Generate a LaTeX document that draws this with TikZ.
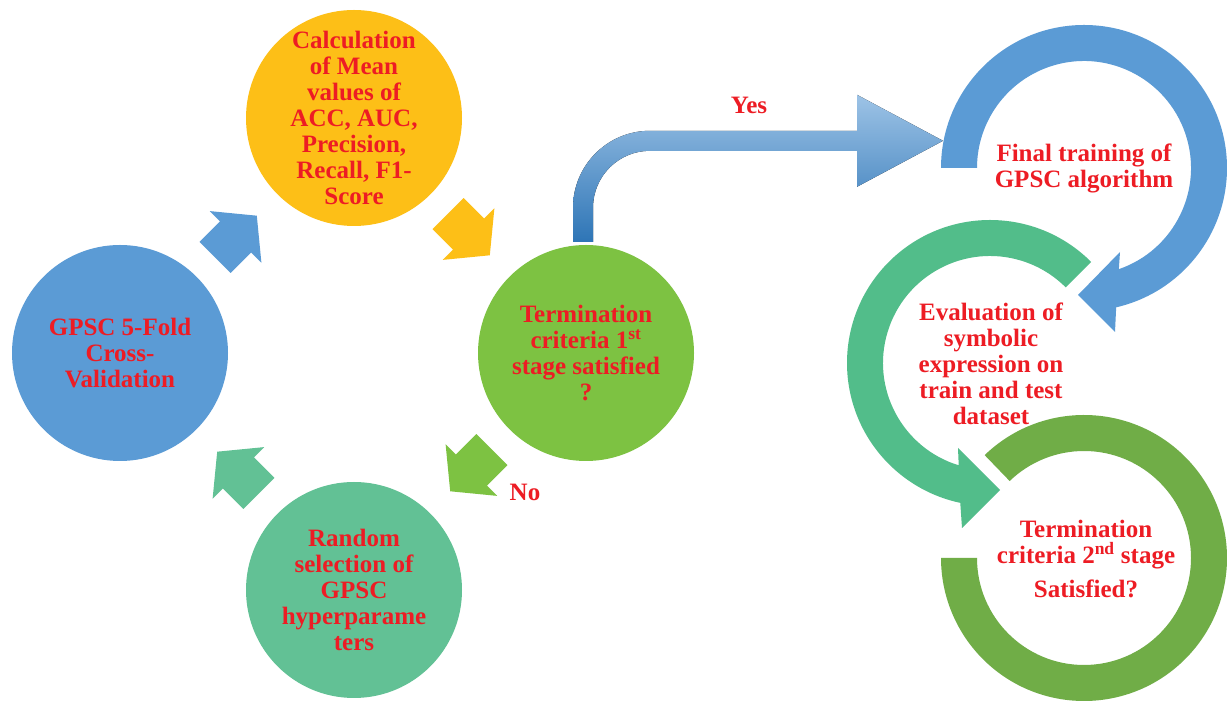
\documentclass[tikz,border=0pt]{standalone}
\usepackage{fontspec}
\setmainfont{Liberation Serif}
\usetikzlibrary{calc}
\definecolor{cvblue}{HTML}{5B9BD5}
\definecolor{calcgold}{HTML}{FDBF17}
\definecolor{termgreen}{HTML}{7DC242}
\definecolor{randteal}{HTML}{62C195}
\definecolor{evalgreen}{HTML}{52BD8A}
\definecolor{olivegreen}{HTML}{70AD47}
\definecolor{yeslight}{HTML}{9DC3E6}
\definecolor{yesdark}{HTML}{2E75B6}
\definecolor{labelred}{HTML}{ED1C24}

\tikzset{
  redtext/.style={text=labelred, align=center, inner sep=0pt,
                  font=\fontsize{25}{26}\selectfont\bfseries},
  stage/.style={redtext, circle, fill=#1, minimum size=216pt},
  cyclearrow/.pic={
    \fill[#1] (-31,-22) -- (-2,-22) -- (-2,-36.5) -- (28,0)
              -- (-2,36.5) -- (-2,22) -- (-31,22) -- cycle;}
}

\begin{document}
\begin{tikzpicture}[x=1pt, y=1pt]
  \useasboundingbox (0,0) rectangle (1227,701);
  \fill[white] (0,0) rectangle (1227,701);

  % left cycle
  \node[stage=cvblue] (cv) at (120,348) {GPSC 5-Fold\\Cross-\\Validation};
  \node[stage=calcgold] (calc) at (354,583)
    {Calculation\\of Mean\\values of\\ACC, AUC,\\Precision,\\Recall, F1-\\Score};
  \node[stage=termgreen] (term1) at (586,348)
    {Termination\\criteria 1\textsuperscript{st}\\stage satisfied\\?};
  \node[stage=randteal] (rand) at (354,111)
    {Random\\selection of\\GPSC\\hyperparame\\ters};

  \pic[rotate=45] at ($(cv)!0.5!(calc)$) {cyclearrow=cvblue};
  \pic[rotate=-45] at ($(calc)!0.5!(term1)$) {cyclearrow=calcgold};
  \pic[rotate=-135] at ($(term1)!0.5!(rand)$) {cyclearrow=termgreen};
  \pic[rotate=135] at ($(rand)!0.5!(cv)$) {cyclearrow=randteal};

  % right rings
  \coordinate (finalc) at (1084,533);
  \coordinate (evalc) at (990,338);
  \coordinate (term2c) at (1084,143);

  \fill[cvblue] ($(finalc)+(-143,0)$) arc[start angle=180, end angle=-77, radius=143]
    -- ($(finalc)+(31,-164)$) -- ($(finalc)+(-6,-127)$) -- ($(finalc)+(36,-84)$)
    -- ($(finalc)+(-71:107)$) arc[start angle=-71, end angle=180, radius=107] -- cycle;
  \fill[evalgreen] ($(evalc)+(45:143)$) arc[start angle=45, end angle=258, radius=143]
    -- ($(evalc)+(-28,-165)$) -- ($(evalc)+(10,-127)$) -- ($(evalc)+(-32,-85)$)
    -- ($(evalc)+(253:107)$) arc[start angle=253, end angle=45, radius=107] -- cycle;
  \fill[olivegreen] ($(term2c)+(134:143)$) arc[start angle=134, end angle=-180, radius=143]
    -- ($(term2c)+(-107,0)$) arc[start angle=-180, end angle=134, radius=107] -- cycle;

  \node[redtext] (final) at (finalc) {Final training of\\GPSC algorithm};
  \node[redtext] (eval) at ($(evalc)+(1,-1)$)
    {Evaluation of\\symbolic\\expression on\\train and test\\dataset};
  \node[redtext] (term2) at ($(term2c)+(2,-1)$)
    {Termination\\criteria 2\textsuperscript{nd} stage\\[8pt]Satisfied?};

  % yes / no
  \fill[top color=yeslight, bottom color=yesdark]
    ([xshift=-13pt,yshift=3pt]term1.north) -- ++(0,34)
    arc[start angle=180, end angle=90, radius=77] -- ++(207,0) -- ++(0,36)
    -- ++(86,-46) -- ++(-86,-46) -- ++(0,36) -- ++(-207,0)
    arc[start angle=90, end angle=180, radius=57] -- ++(0,-34) -- cycle;
  \node[redtext] (yes) at (749,596) {Yes};
  \node[redtext] (no) at (525,209) {No};
\end{tikzpicture}
\end{document}
